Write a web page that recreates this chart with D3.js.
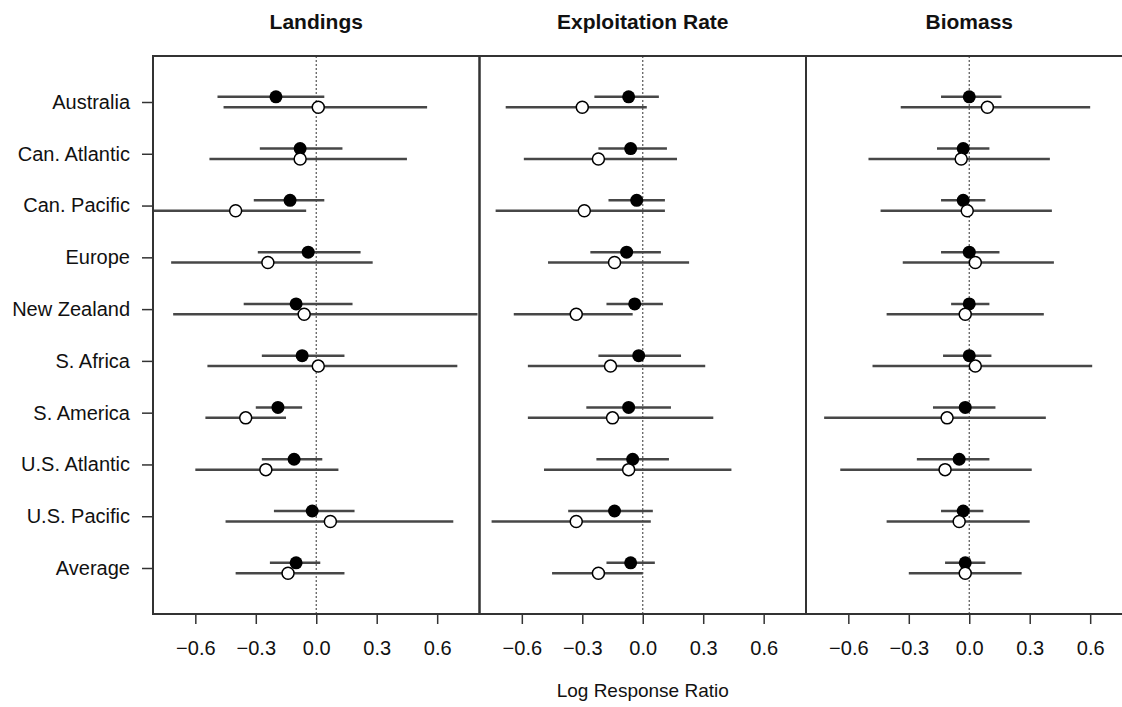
<!DOCTYPE html>
<html>
<head>
<meta charset="utf-8">
<script src="https://cdn.jsdelivr.net/npm/d3@7"></script>
<style>
  body { margin: 0; background: #fff; }
  svg { display: block; font-family: "Liberation Sans", Arial, Helvetica, sans-serif; }
</style>
</head>
<body>
<svg id="chart" width="1122" height="707"></svg>
<script>
// regions (rows, top to bottom)
const regions = ["Australia", "Can. Atlantic", "Can. Pacific", "Europe", "New Zealand",
  "S. Africa", "S. America", "U.S. Atlantic", "U.S. Pacific", "Average"];
const panelTitles = ["Landings", "Exploitation Rate", "Biomass"];
const xTicks = [-0.6, -0.3, 0, 0.3, 0.6];
const xLabel = "Log Response Ratio";

// each entry: [estimate, lower, upper]
const landingsFilled = [
  [-0.20, -0.49, 0.04], [-0.08, -0.28, 0.13], [-0.13, -0.31, 0.04], [-0.04, -0.29, 0.22],
  [-0.10, -0.36, 0.18], [-0.07, -0.27, 0.14], [-0.19, -0.30, -0.07], [-0.11, -0.27, 0.03],
  [-0.02, -0.21, 0.19], [-0.10, -0.23, 0.02]
];
const landingsOpen = [
  [0.01, -0.46, 0.55], [-0.08, -0.53, 0.45], [-0.40, -0.85, -0.05], [-0.24, -0.72, 0.28],
  [-0.06, -0.71, 0.80], [0.01, -0.54, 0.70], [-0.35, -0.55, -0.15], [-0.25, -0.60, 0.11],
  [0.07, -0.45, 0.68], [-0.14, -0.40, 0.14]
];
const exploitFilled = [
  [-0.07, -0.24, 0.08], [-0.06, -0.22, 0.12], [-0.03, -0.17, 0.11], [-0.08, -0.26, 0.09],
  [-0.04, -0.18, 0.10], [-0.02, -0.22, 0.19], [-0.07, -0.28, 0.14], [-0.05, -0.23, 0.13],
  [-0.14, -0.37, 0.05], [-0.06, -0.18, 0.06]
];
const exploitOpen = [
  [-0.30, -0.68, 0.02], [-0.22, -0.59, 0.17], [-0.29, -0.73, 0.11], [-0.14, -0.47, 0.23],
  [-0.33, -0.64, -0.05], [-0.16, -0.57, 0.31], [-0.15, -0.57, 0.35], [-0.07, -0.49, 0.44],
  [-0.33, -0.75, 0.04], [-0.22, -0.45, 0.00]
];
const biomassFilled = [
  [0.00, -0.14, 0.16], [-0.03, -0.16, 0.10], [-0.03, -0.14, 0.08], [0.00, -0.14, 0.15],
  [0.00, -0.09, 0.10], [0.00, -0.13, 0.11], [-0.02, -0.18, 0.13], [-0.05, -0.26, 0.10],
  [-0.03, -0.14, 0.07], [-0.02, -0.12, 0.08]
];
const biomassOpen = [
  [0.09, -0.34, 0.60], [-0.04, -0.50, 0.40], [-0.01, -0.44, 0.41], [0.03, -0.33, 0.42],
  [-0.02, -0.41, 0.37], [0.03, -0.48, 0.61], [-0.11, -0.72, 0.38], [-0.12, -0.64, 0.31],
  [-0.05, -0.41, 0.30], [-0.02, -0.30, 0.26]
];

const panels = [
  { title: panelTitles[0], filled: landingsFilled, open: landingsOpen },
  { title: panelTitles[1], filled: exploitFilled, open: exploitOpen },
  { title: panelTitles[2], filled: biomassFilled, open: biomassOpen }
];

const svg = d3.select("#chart");
const plotLeft = 153, plotTop = 56, plotBottom = 614;
const panelW = 326.5;
const offset = 5.2;   // vertical shift of the two estimates in a row

const y = d3.scalePoint()
  .domain(regions)
  .range([102, 568]);

// left axis with region names
const yAxis = svg.append("g")
  .attr("transform", `translate(${plotLeft},0)`)
  .call(d3.axisLeft(y).tickSize(11).tickPadding(12));
yAxis.select(".domain").remove();
yAxis.selectAll("line").attr("stroke", "#333").attr("stroke-width", 1.5);
yAxis.selectAll("text")
  .attr("fill", "#111")
  .style("font-size", "20px");

panels.forEach((p, i) => {
  const x0 = plotLeft + panelW * i;
  const x = d3.scaleLinear().domain([-0.81, 0.81]).range([x0, x0 + panelW]);
  const g = svg.append("g");

  svg.append("clipPath").attr("id", "clip" + i)
    .append("rect")
    .attr("x", x0).attr("y", plotTop)
    .attr("width", panelW).attr("height", plotBottom - plotTop);

  // zero reference
  g.append("line")
    .attr("x1", x(0)).attr("x2", x(0))
    .attr("y1", plotTop).attr("y2", plotBottom)
    .attr("stroke", "#555")
    .attr("stroke-width", 1.2)
    .attr("stroke-dasharray", "2,2");

  const marks = g.append("g").attr("clip-path", `url(#clip${i})`);

  // intervals
  [["filled", -offset], ["open", offset]].forEach(([key, dy]) => {
    marks.selectAll(".ci-" + key)
      .data(p[key])
      .enter()
      .append("line")
      .attr("class", "ci-" + key)
      .attr("x1", d => x(d[1]))
      .attr("x2", d => x(d[2]))
      .attr("y1", (d, j) => y(regions[j]) + dy)
      .attr("y2", (d, j) => y(regions[j]) + dy)
      .attr("stroke", "#474747")
      .attr("stroke-width", 2.5);
  });

  marks.selectAll(".dot-filled")
    .data(p.filled)
    .enter()
    .append("circle")
    .attr("class", "dot-filled")
    .attr("cx", d => x(d[0]))
    .attr("cy", (d, j) => y(regions[j]) - offset)
    .attr("r", 6.5)
    .attr("fill", "#000");

  marks.selectAll(".dot-open")
    .data(p.open)
    .enter()
    .append("circle")
    .attr("class", "dot-open")
    .attr("cx", d => x(d[0]))
    .attr("cy", (d, j) => y(regions[j]) + offset)
    .attr("r", 6)
    .attr("fill", "#fff")
    .attr("stroke", "#000")
    .attr("stroke-width", 1.5);

  // frame
  g.append("rect")
    .attr("x", x0).attr("y", plotTop)
    .attr("width", panelW).attr("height", plotBottom - plotTop)
    .attr("fill", "none")
    .attr("stroke", "#333")
    .attr("stroke-width", 2);

  // bottom axis
  const xa = svg.append("g")
    .attr("transform", `translate(0,${plotBottom})`)
    .call(d3.axisBottom(x).tickValues(xTicks).tickSize(10).tickPadding(17)
      .tickFormat(d3.format(".1f")));
  xa.select(".domain").remove();
  xa.selectAll("line").attr("stroke", "#333").attr("stroke-width", 1.5);
  xa.selectAll("text").attr("fill", "#111").style("font-size", "20px");

  // title
  svg.append("text")
    .attr("x", x0 + panelW / 2)
    .attr("y", 29)
    .attr("text-anchor", "middle")
    .style("font-size", "21px")
    .style("font-weight", "bold")
    .attr("fill", "#111")
    .text(p.title);
});

svg.append("text")
  .attr("x", plotLeft + panelW * 1.5)
  .attr("y", 697)
  .attr("text-anchor", "middle")
  .style("font-size", "19px")
  .attr("fill", "#111")
  .text(xLabel);
</script>
</body>
</html>
